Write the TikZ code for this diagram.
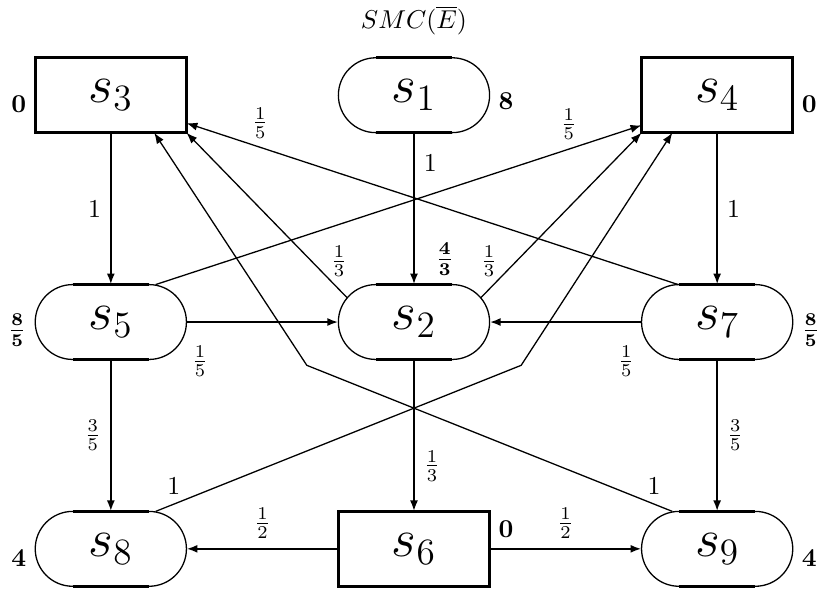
\documentclass[tikz,border=0pt]{standalone}
\usepackage{amsmath}
\usetikzlibrary{positioning,arrows.meta}
\tikzset{
  sbox/.style={draw,line width=1.2pt,minimum width=2.06cm,minimum height=1.02cm,outer sep=0pt,font=\huge},
  pill/.style={draw,rounded corners=0.51cm,line width=0.5pt,minimum width=2.06cm,minimum height=1.02cm,outer sep=0pt,font=\huge},
  rew/.style={font=\bfseries\boldmath},
  arrow/.style={-{Latex[length=1.5mm,width=1.1mm]},line width=1pt},
  tarrow/.style={-{Latex[length=1.5mm,width=1.1mm]},line width=0.5pt},
}
\begin{document}
\begin{tikzpicture}[node distance=2.07cm]
    \useasboundingbox (-5.64,-3.638) rectangle (5.504,4.387);
    \node[pill,label={[rew,xshift=0.42cm]above:$\frac{4}{3}$}] (s2) at (0,0) {$s_2$};
    \node[pill,left=of s2,label={[rew,yshift=-0.11cm]left:$\frac{8}{5}$}] (s5) {$s_5$};
    \node[pill,right=of s2,label={[rew,yshift=-0.11cm]right:$\frac{8}{5}$}] (s7) {$s_7$};
    \node[pill,above=of s2,label={[rew,yshift=-0.08cm]right:8}] (s1) {$s_1$};
    \node[sbox,left=of s1,label={[rew,yshift=-0.12cm]left:0}] (s3) {$s_3$};
    \node[sbox,right=of s1,label={[rew,yshift=-0.12cm]right:0}] (s4) {$s_4$};
    \node[sbox,below=of s2,label={[rew,yshift=0.27cm]right:0}] (s6) {$s_6$};
    \node[pill,left=of s6,label={[rew,yshift=-0.12cm]left:4}] (s8) {$s_8$};
    \node[pill,right=of s6,label={[rew,yshift=-0.12cm]right:4}] (s9) {$s_9$};
    \node[above=0.18cm of s1] (title) {$SMC(\overline{E})$};
    % thick flat sides of the rounded states
    \foreach \n in {s1,s2,s5,s7,s8,s9}
      \draw[line width=1.2pt] ([xshift=-0.52cm]\n.north) -- ([xshift=0.52cm]\n.north)
        ([xshift=-0.52cm]\n.south) -- ([xshift=0.52cm]\n.south);
    \coordinate (bendL) at (-1.46,-0.59);
    \coordinate (bendR) at (1.46,-0.59);
    \draw[arrow] (s3) -- node[midway,left]{1} (s5);
    \draw[arrow] (s1) -- node[pos=0.2,right]{1} (s2);
    \draw[arrow] (s4) -- node[midway,right]{1} (s7);
    \draw[arrow] (s5) -- node[pos=0.09,below=0.19cm]{$\frac{1}{5}$} (s2);
    \draw[arrow] (s7) -- node[pos=0.1,below=0.19cm]{$\frac{1}{5}$} (s2);
    \draw[arrow] (s5) -- node[midway,left]{$\frac{3}{5}$} (s8);
    \draw[arrow] (s7) -- node[midway,right]{$\frac{3}{5}$} (s9);
    \draw[arrow] (s2) -- node[pos=0.7,right]{$\frac{1}{3}$} (s6);
    \draw[arrow] (s6) -- node[midway,above]{$\frac{1}{2}$} (s8);
    \draw[arrow] (s6) -- node[midway,above]{$\frac{1}{2}$} (s9);
    \draw[tarrow] ([xshift=0.61cm]s5.north) -- node[pos=0.85,above]{$\frac{1}{5}$} ([yshift=-0.41cm]s4.west);
    \draw[tarrow] ([xshift=-0.53cm]s7.north) -- node[pos=0.85,above]{$\frac{1}{5}$} ([yshift=-0.38cm]s3.east);
    \draw[tarrow] ([shift={(-0.91,0.33)}]s2.center) -- node[pos=0.22,xshift=0.37cm]{$\frac{1}{3}$} (s3.south east);
    \draw[tarrow] ([shift={(0.91,0.33)}]s2.center) -- node[pos=0.22,xshift=-0.37cm]{$\frac{1}{3}$} (s4.south west);
    \draw[tarrow] ([xshift=0.61cm]s8.north) -- node[pos=0.05,above]{1} (bendR) -- ([xshift=-0.61cm]s4.south);
    \draw[tarrow] ([xshift=-0.61cm]s9.north) -- node[pos=0.05,above]{1} (bendL) -- ([xshift=0.59cm]s3.south);
  \end{tikzpicture}
\end{document}
